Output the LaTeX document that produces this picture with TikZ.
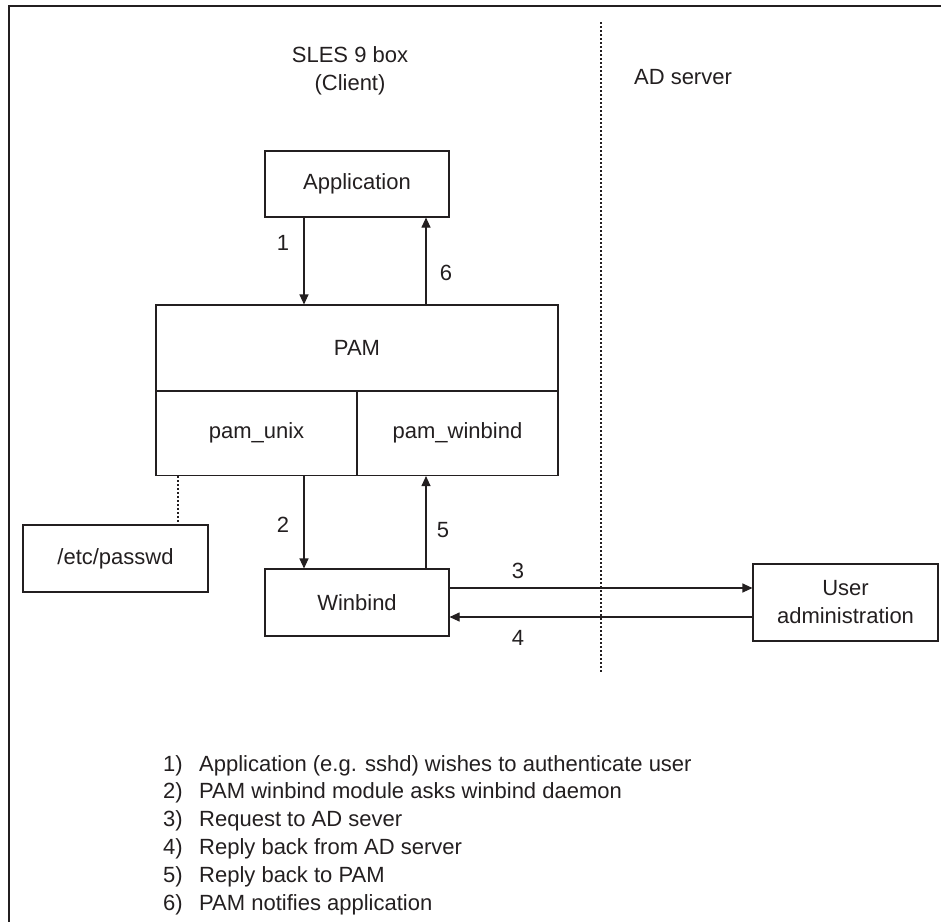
\documentclass[tikz,border=0pt]{standalone}
\usepackage{fontspec}
\setmainfont{Liberation Sans}
\usetikzlibrary{arrows.meta}
\definecolor{ink}{HTML}{231F20}
\begin{document}
\begin{tikzpicture}[x=1pt,y=-1pt,
  every node/.style={text=ink,font=\fontsize{22}{27}\selectfont},
  box/.style={draw=ink,line width=1.1pt,inner sep=0pt},
  conn/.style={draw=ink,line width=1.1pt,-{Triangle[length=10pt,width=9pt]}},
  dots/.style={draw=ink,line width=1.2pt,dash pattern=on 1.6pt off 2.4pt},
  lbl/.style={inner sep=0pt}]
\useasboundingbox (0,0) rectangle (941,922);
% frame
\draw[ink,line width=1.4pt] (941,6) -- (9,6) -- (9,922);
% titles
\node[lbl,align=center,font=\fontsize{22}{28}\selectfont] (sles) at (350,71) {SLES 9 box\\(Client)};
\node[lbl] (ad) at (683,77) {AD server};
% separator
\coordinate (septop) at (601,22);
\coordinate (sepbot) at (601,673);
\draw[dots] (septop) -- (sepbot);
% boxes
\node[box,minimum width=184pt,minimum height=66pt] (app) at (357,184) {Application};
\node[box,minimum width=402pt,minimum height=86pt] (pam) at (357,348) {PAM};
\node[box,minimum width=201pt,minimum height=85pt] (unix) at (256.5,433) {pam\_unix};
\node[box,minimum width=201pt,minimum height=85pt] (wb) at (457.5,433) {pam\_winbind};
\node[box,minimum width=185pt,minimum height=67pt] (passwd) at (115.5,558.5) {/etc/passwd};
\node[box,minimum width=184pt,minimum height=67pt] (winbind) at (357,602.5) {Winbind};
\node[box,minimum width=185pt,minimum height=77pt,align=center,font=\fontsize{22}{28}\selectfont] (user) at (845.5,602.5) {User\\administration};
% connectors
\draw[conn] (app.south -| 304,0) -- (pam.north -| 304,0);
\draw[conn] (pam.north -| 426,0) -- (app.south -| 426,0);
\draw[conn] (unix.south -| 304,0) -- (winbind.north -| 304,0);
\draw[conn] (winbind.north -| 426,0) -- (wb.south -| 426,0);
\draw[conn] (winbind.east |- 0,588) -- (user.west |- 0,588);
\draw[conn] (user.west |- 0,617) -- (winbind.east |- 0,617);
\draw[dots] (unix.south -| 178,0) -- (passwd.north -| 178,0);
% numbers
\node[lbl] (n1) at (283,243) {1};
\node[lbl] (n6) at (446,273) {6};
\node[lbl] (n2) at (283,525) {2};
\node[lbl] (n5) at (443,530) {5};
\node[lbl] (n3) at (518,571) {3};
\node[lbl] (n4) at (518,638) {4};
% legend
\foreach \i/\t [count=\k from 0] in {1/Application (e.g. sshd) wishes to authenticate user,
  2/PAM winbind module asks winbind daemon,
  3/Request to AD sever,
  4/Reply back from AD server,
  5/Reply back to PAM,
  6/PAM notifies application} {
  \node[lbl,anchor=base west] (k\i) at (163,{771+27.8*\k}) {\i)};
  \node[lbl,anchor=base west] (t\i) at (199,{771+27.8*\k}) {\t};
}
\end{tikzpicture}
\end{document}
